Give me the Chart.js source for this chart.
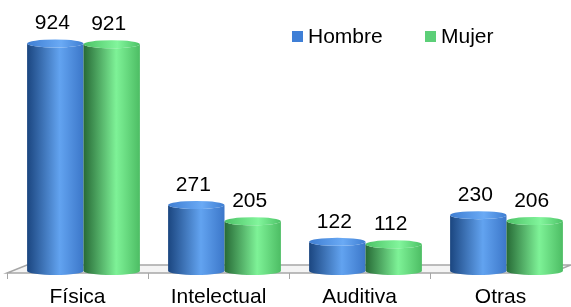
<!DOCTYPE html>
<html>
<head>
<meta charset="utf-8">
<script src="https://cdn.jsdelivr.net/npm/chart.js@4"></script>
<style>
  body { margin: 0; background: #fff; }
  #wrap { width: 571px; height: 307px; }
</style>
</head>
<body>
<div id="wrap"><canvas id="chart" width="571" height="307"></canvas></div>
<script>
// Data
const categories = ['Física', 'Intelectual', 'Auditiva', 'Otras'];
const seriesNames = ['Hombre', 'Mujer'];
const hombre = [924, 271, 122, 230];
const mujer = [921, 205, 112, 206];

const FONT = '"Liberation Sans", Arial, sans-serif';
const SHIFT = 6; // fake 3D depth offset of the bars

// cylinder shading per series
const palettes = [
    { dark: '#1b4680', light: '#62a3f0', mid: '#3c77c9', capA: '#3f7ed2', capB: '#6aaaf5', key: '#3f7fd6' },
    { dark: '#276a36', light: '#7ef297', mid: '#4dbd64', capA: '#4cc266', capB: '#82f59c', key: '#5ccf78' }
];

function drawCylinder(ctx, x, top, base, w, col) {
    const rx = w / 2, ry = 4;
    const l = x - rx, r = x + rx;

    const body = ctx.createLinearGradient(l, 0, r, 0);
    body.addColorStop(0, col.dark);
    body.addColorStop(0.58, col.light);
    body.addColorStop(1, col.mid);

    ctx.beginPath();
    ctx.moveTo(l, top);
    ctx.lineTo(l, base);
    ctx.ellipse(x, base, rx, ry, 0, Math.PI, 0, true);
    ctx.lineTo(r, top);
    ctx.ellipse(x, top, rx, ry, 0, 0, Math.PI, false);
    ctx.closePath();
    ctx.fillStyle = body;
    ctx.fill();

    const cap = ctx.createLinearGradient(l, 0, r, 0);
    cap.addColorStop(0, col.capA);
    cap.addColorStop(0.6, col.capB);
    cap.addColorStop(1, col.capA);
    ctx.beginPath();
    ctx.ellipse(x, top, rx, ry, 0, 0, Math.PI * 2);
    ctx.fillStyle = cap;
    ctx.fill();
}

const cylinderPlugin = {
    id: 'cylinders',
    beforeDatasetsDraw(chart) {
        const ctx = chart.ctx;
        const area = chart.chartArea;
        const xs = chart.scales.x;
        const front = area.bottom + 1, back = area.bottom - 7, depth = 20;

        // floor
        ctx.save();
        ctx.beginPath();
        ctx.moveTo(area.left, front);
        ctx.lineTo(area.right - depth, front);
        ctx.lineTo(area.right, back);
        ctx.lineTo(area.left + depth, back);
        ctx.closePath();
        ctx.fillStyle = '#f4f4f4';
        ctx.fill();
        ctx.strokeStyle = '#a6a6a6';
        ctx.lineWidth = 1.5;
        ctx.stroke();

        // tick marks at category boundaries
        const step = (xs.right - xs.left) / categories.length;
        ctx.beginPath();
        for (let i = 0; i < categories.length; i++) {
            const tx = Math.round(xs.left + i * step) + 0.5;
            ctx.moveTo(tx, front);
            ctx.lineTo(tx, front + 6);
        }
        ctx.lineWidth = 1;
        ctx.stroke();
        ctx.restore();
    },
    afterDatasetsDraw(chart) {
        const ctx = chart.ctx;
        ctx.save();
        chart.data.datasets.forEach((ds, di) => {
            const meta = chart.getDatasetMeta(di);
            meta.data.forEach(el => {
                drawCylinder(ctx, el.x + SHIFT, el.y, el.base - 1, el.width, palettes[di]);
            });
        });
        // value labels
        ctx.fillStyle = '#000';
        ctx.font = '21px ' + FONT;
        ctx.textAlign = 'center';
        ctx.textBaseline = 'middle';
        chart.data.datasets.forEach((ds, di) => {
            const meta = chart.getDatasetMeta(di);
            meta.data.forEach((el, i) => {
                ctx.fillText(String(ds.data[i]), el.x + 3, el.y - 20);
            });
        });
        ctx.restore();
    },
    afterDraw(chart) {
        // legend
        const ctx = chart.ctx;
        const spots = [292, 425];
        ctx.save();
        ctx.font = '21px ' + FONT;
        ctx.textBaseline = 'middle';
        ctx.textAlign = 'left';
        seriesNames.forEach((name, i) => {
            ctx.fillStyle = palettes[i].key;
            ctx.fillRect(spots[i], 31, 11, 11);
            ctx.fillStyle = '#000';
            ctx.fillText(name, spots[i] + 16, 37);
        });
        ctx.restore();
    }
};

new Chart(document.getElementById('chart'), {
    type: 'bar',
    data: {
        labels: categories,
        datasets: [
            // bars are painted by the plugin as cylinders
            { label: seriesNames[0], data: hombre, backgroundColor: 'rgba(0,0,0,0)', borderWidth: 0 },
            { label: seriesNames[1], data: mujer, backgroundColor: 'rgba(0,0,0,0)', borderWidth: 0 }
        ]
    },
    options: {
        responsive: false,
        animation: false,
        events: [],
        layout: { padding: { left: 7, right: 0, top: 0, bottom: 0 } },
        datasets: {
            bar: {
                categoryPercentage: 0.8,
                barPercentage: 1.0
            }
        },
        scales: {
            x: {
                grid: { display: false, drawTicks: false },
                border: { display: false },
                afterFit(scale) { scale.height = 35; },
                ticks: {
                    color: '#000',
                    padding: 15,
                    maxRotation: 0,
                    font: { family: FONT, size: 21, lineHeight: 1 }
                }
            },
            y: {
                display: false,
                min: 0,
                max: 1100
            }
        },
        plugins: {
            colors: { enabled: false },
            legend: { display: false },
            tooltip: { enabled: false }
        }
    },
    plugins: [cylinderPlugin]
});
</script>
</body>
</html>
